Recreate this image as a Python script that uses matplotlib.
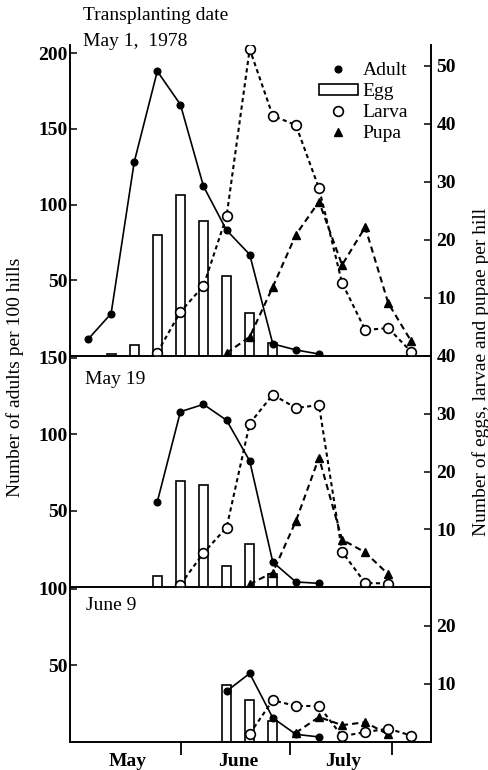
import matplotlib
matplotlib.use('Agg')
import matplotlib.pyplot as plt
from matplotlib.lines import Line2D
from matplotlib.patches import Patch

plt.rcParams['font.family'] = ['Liberation Serif', 'DejaVu Serif']
plt.rcParams['font.size'] = 14

# sampling occasions (index of each survey, roughly weekly)
# --- transplanted May 1, 1978
adult1_x = [0, 1, 2, 3, 4, 5, 6, 7, 8, 9, 10]
adult1 = [11, 28, 128, 188, 166, 112, 83, 67, 8, 4, 1.3]
egg1_x = [1, 2, 3, 4, 5, 6, 7, 8]
egg1 = [0.3, 1.9, 20.9, 27.8, 23.3, 13.8, 7.4, 2.2]
larva1_x = [3, 4, 5, 6, 7, 8, 9, 10, 11, 12, 13, 14]
larva1 = [0.6, 7.6, 12.1, 24.1, 52.9, 41.4, 39.8, 28.9, 12.6, 4.5, 4.8, 0.7]
pupa1_x = [6, 7, 8, 9, 10, 11, 12, 13, 14]
pupa1 = [0.5, 3.3, 11.9, 20.9, 26.6, 15.7, 22.2, 9.1, 2.5]

# --- transplanted May 19
adult2_x = [3, 4, 5, 6, 7, 8, 9, 10]
adult2 = [55.7, 114.6, 119.4, 109, 82.4, 16.3, 3.3, 2.4]
egg2_x = [3, 4, 5, 6, 7, 8]
egg2 = [1.9, 18.4, 17.6, 3.6, 7.5, 2.2]
larva2_x = [4, 5, 6, 7, 8, 9, 10, 11, 12, 13]
larva2 = [0.4, 5.9, 10.3, 28.3, 33.3, 31, 31.5, 6.1, 0.7, 0.6]
pupa2_x = [7, 8, 9, 10, 11, 12, 13]
pupa2 = [0.5, 2.5, 11.4, 22.4, 8.2, 6.0, 2.2]

# --- transplanted June 9
adult3_x = [6, 7, 8, 9, 10]
adult3 = [33.1, 44.7, 15.7, 5.0, 3.3]
egg3_x = [6, 7, 8]
egg3 = [9.9, 7.3, 3.7]
larva3_x = [7, 8, 9, 10, 11, 12, 13, 14]
larva3 = [1.4, 7.2, 6.2, 6.2, 1.0, 1.7, 2.3, 1.1]
pupa3_x = [9, 10, 11, 12, 13]
pupa3 = [1.6, 4.3, 2.9, 3.4, 1.3]

panel_names = ['Transplanting date\nMay 1, 1978', 'May 19', 'June 9']
months = ['May', 'June', 'July']
month_mid = [1.73, 6.49, 11.04]
month_edges = [4.03, 8.74, 13.16]

left_ticks = [[50, 100, 150, 200], [50, 100, 150], [50, 100]]
right_ticks = [[10, 20, 30, 40, 50], [10, 20, 30, 40], [10, 20]]
left_lim = [205.3, 151, 101]
right_lim = [53.6, 40, 26.7]

adults = [(adult1_x, adult1), (adult2_x, adult2), (adult3_x, adult3)]
eggs = [(egg1_x, egg1), (egg2_x, egg2), (egg3_x, egg3)]
larvae = [(larva1_x, larva1), (larva2_x, larva2), (larva3_x, larva3)]
pupae = [(pupa1_x, pupa1), (pupa2_x, pupa2), (pupa3_x, pupa3)]

W, H = 489, 770
fig = plt.figure(figsize=(W / 100, H / 100), dpi=100)
L, R = 70 / W, 431 / W
tops = [45, 356, 587]
bots = [356, 587, 742]

for k in range(3):
    ax = fig.add_axes([L, 1 - bots[k] / H, R - L, (bots[k] - tops[k]) / H])
    ax2 = ax.twinx()
    ax.set_zorder(ax2.get_zorder() + 1)
    ax.patch.set_visible(False)

    ax2.bar(eggs[k][0], eggs[k][1], width=0.38, facecolor='white',
            edgecolor='black', linewidth=1.2, zorder=2)
    ax2.plot(larvae[k][0], larvae[k][1], color='black', lw=1.5,
             ls=(0, (2, 1.6)), marker='o', ms=7, mfc='white', mec='black',
             mew=1.2, zorder=4)
    ax2.plot(pupae[k][0], pupae[k][1], color='black', lw=1.5,
             ls=(0, (3, 2)), marker='^', ms=5.5, mfc='black', mec='black',
             zorder=3)
    ax.plot(adults[k][0], adults[k][1], color='black', lw=1.2, marker='o',
            ms=4.8, zorder=5)

    ax.set_xlim(-0.78, 14.85)
    ax.set_ylim(0, left_lim[k])
    ax2.set_ylim(0, right_lim[k])
    ax.set_yticks(left_ticks[k])
    ax2.set_yticks(right_ticks[k])
    for a in (ax, ax2):
        a.spines['top'].set_visible(False)
        for s in a.spines.values():
            s.set_linewidth(1.2)
    ax.tick_params(axis='y', direction='in', length=5, width=1.1, pad=2,
                   labelsize=14)
    ax2.tick_params(axis='y', direction='in', length=5, width=1.1, pad=4,
                    labelsize=14)
    for lab in ax.get_yticklabels() + ax2.get_yticklabels():
        lab.set_fontweight('bold')

    if k < 2:
        ax.set_xticks([])
    else:
        ax.set_xticks(month_edges)
        ax.set_xticklabels([])
        ax.tick_params(axis='x', which='major', direction='out', length=9,
                       width=1.3)
        ax.set_xticks(month_mid, minor=True)
        ax.set_xticklabels(months, minor=True, fontweight='bold', fontsize=14)
        ax.tick_params(axis='x', which='minor', length=0, pad=8)

    if k == 0:
        handles = [
            Line2D([], [], ls='none', marker='o', ms=4.8, color='black'),
            Patch(facecolor='white', edgecolor='black', linewidth=1.2),
            Line2D([], [], ls='none', marker='o', ms=7, mfc='white',
                   mec='black', mew=1.2),
            Line2D([], [], ls='none', marker='^', ms=5.5, color='black'),
        ]
        ax.legend(handles, ['Adult', 'Egg', 'Larva', 'Pupa'], loc='upper left',
                  bbox_to_anchor=(0.662, 0.975), frameon=False, borderpad=0,
                  handlelength=2.0, handleheight=0.5, handletextpad=0.25,
                  labelspacing=0.2, fontsize=14)

fig.text(83 / W, 1 - 16 / H, 'Transplanting date', ha='left', va='center')
fig.text(83 / W, 1 - 42 / H, 'May 1,  1978', ha='left', va='center')
fig.text(85 / W, 1 - 379 / H, panel_names[1], ha='left', va='center')
fig.text(86 / W, 1 - 606 / H, panel_names[2], ha='left', va='center')

fig.text(15 / W, 1 - 377 / H, 'Number of adults per 100 hills',
         rotation=90, ha='center', va='center')
fig.text(481 / W, 1 - 372 / H, 'Number of eggs, larvae and pupae per hill',
         rotation=90, ha='center', va='center')

fig.savefig('out.png', dpi=100)
